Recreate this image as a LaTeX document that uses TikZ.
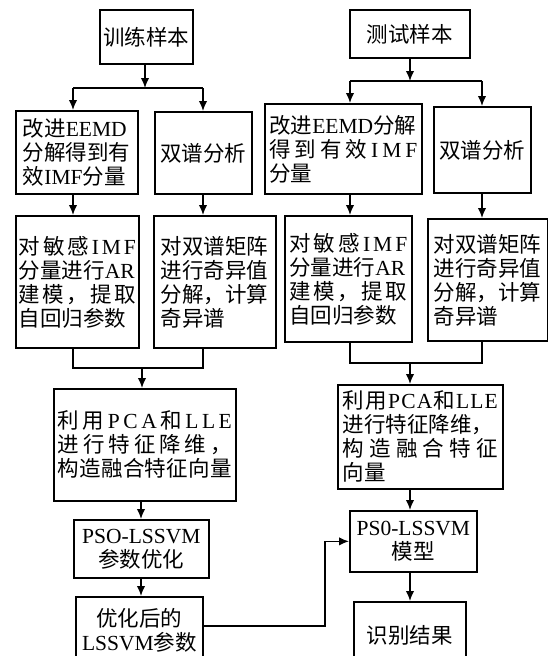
\documentclass[tikz,border=0pt]{standalone}
\usepackage{fontspec}
\setmainfont{Noto Sans CJK SC}
\newfontfamily\lat{Liberation Serif}
\usetikzlibrary{arrows.meta,calc}
\newcommand\spreadline[1]{\makebox[\hsize][s]{#1}}
\tikzset{
  box/.style={draw, line width=1.7pt, inner xsep=0pt, inner ysep=0pt, anchor=north west,
    font=\fontsize{21.5}{24}\selectfont, align=center},
  lbox/.style={box, align=left},
  conn/.style={line width=1.6pt},
  arr/.style={conn, -{Latex[length=10pt,width=8.5pt]}},
}
\begin{document}
\begin{tikzpicture}[x=1pt,y=-1pt]
\useasboundingbox (0,0) rectangle (548,656);
\clip (0,0) rectangle (548,656);
\fill[white] (0,0) rectangle (548,656);

% left column
\node[box, minimum width=93pt, minimum height=54pt] (trainS) at (99,9) {训练样本};
\node[lbox, minimum width=122pt, minimum height=83pt, text width=108pt] (Lbox1) at (15,110)
  {改进{\lat EEMD}\\分解得到有\\效{\lat IMF}分量};
\node[box, minimum width=97pt, minimum height=82pt] (Lbox2) at (154,111) {双谱分析};
\node[lbox, minimum width=123pt, minimum height=132pt, text width=117pt] (Lbox3) at (15,215)
  {\spreadline{对\hfil 敏\hfil 感\hfil{\lat I\hfil M\hfil F}}\\
   分量进行{\lat AR}\\
   \spreadline{建\hfil 模\hfil ，\hfil 提\hfil 取}\\
   自回归参数};
\node[lbox, minimum width=122pt, minimum height=132pt, text width=108pt] (Lbox4) at (153,215)
  {对双谱矩阵\\进行奇异值\\分解，计算\\奇异谱};
\node[lbox, minimum width=182pt, minimum height=112pt, text width=174pt] (LPCA) at (53,388)
  {\spreadline{利\hfil 用\hfil{\lat P\hfil C\hfil A}\hfil 和\hfil{\lat L\hfil L\hfil E}}\\
   \spreadline{进\hfil 行\hfil 特\hfil 征\hfil 降\hfil 维\hfil ，}\\
   \spreadline{构\hfil 造\hfil 融\hfil 合\hfil 特\hfil 征\hfil 向\hfil 量}};
\node[box, minimum width=135pt, minimum height=58pt] (Lpso) at (73,519)
  {{\lat PSO-LSSVM}\\参数优化};
\node[box, minimum width=127pt, minimum height=66pt] (Lopt) at (75,596)
  {优化后的\\{\lat LSSVM}参数};

% right column
\node[box, minimum width=120pt, minimum height=48pt] (testS) at (349,9) {测试样本};
\node[lbox, minimum width=157pt, minimum height=90pt, text width=148pt] (Rbox1) at (264,103)
  {改进{\lat EEMD}分解\\
   \spreadline{得\hfil 到\hfil 有\hfil 效\hfil{\lat I\hfil M\hfil F}}\\
   分量};
\node[box, minimum width=97pt, minimum height=86pt] (Rbox2) at (433,106) {双谱分析};
\node[lbox, minimum width=127pt, minimum height=126pt, text width=118pt] (Rbox3) at (284,215)
  {\spreadline{对\hfil 敏\hfil 感\hfil{\lat I\hfil M\hfil F}}\\
   分量进行{\lat AR}\\
   \spreadline{建\hfil 模\hfil ，\hfil 提\hfil 取}\\
   自回归参数};
\node[lbox, minimum width=120pt, minimum height=122pt, text width=108pt] (Rbox4) at (427,218)
  {对双谱矩阵\\进行奇异值\\分解，计算\\奇异谱};
\node[lbox, minimum width=165pt, minimum height=104pt, text width=155pt] (RPCA) at (337,384)
  {\spreadline{利\hfil 用\hfil{\lat P\hfil C\hfil A}\hfil 和\hfil{\lat L\hfil L\hfil E}}\\
   进行特征降维，\\
   \spreadline{构\hfil 造\hfil 融\hfil 合\hfil 特\hfil 征}\\
   向量};
\node[box, minimum width=127pt, minimum height=61pt] (Rpso) at (349,510)
  {{\lat PS0-LSSVM}\\模型};
\node[box, minimum width=112pt, minimum height=68pt] (Rres) at (353,601) {识别结果};

% junction coordinates
\coordinate (jTL) at (73,88);
\coordinate (jTR) at (203,88);
\coordinate (jTM) at (145,88);
\coordinate (jBL) at (73,368);
\coordinate (jBR) at (203,368);
\coordinate (jBM) at (142,368);
\coordinate (kTL) at (350,81);
\coordinate (kTR) at (482,81);
\coordinate (kTM) at (410,81);
\coordinate (kBL) at (350,363);
\coordinate (kBR) at (482,363);
\coordinate (kBM) at (410,363);
\coordinate (fb) at (325,626);
\coordinate (px) at (141,0);

% left connectors
\draw[arr] (trainS.south -| jTM) -- (jTM);
\draw[conn] (jTL) -- (jTR);
\draw[arr] (jTL) -- (jTL |- Lbox1.north);
\draw[arr] (jTR) -- (jTR |- Lbox2.north);
\draw[arr] (jTL |- Lbox1.south) -- (jTL |- Lbox3.north);
\draw[arr] (jTR |- Lbox2.south) -- (jTR |- Lbox4.north);
\draw[conn] (jBL |- Lbox3.south) -- (jBL) -- (jBR) -- (jBR |- Lbox4.south);
\draw[arr] (jBM) -- (jBM |- LPCA.north);
\draw[arr] (px |- LPCA.south) -- (px |- Lpso.north);
\draw[arr] (px |- Lpso.south) -- (px |- Lopt.north);

% right connectors
\draw[arr] (testS.south -| kTM) -- (kTM);
\draw[conn] (kTL) -- (kTR);
\draw[arr] (kTL) -- (kTL |- Rbox1.north);
\draw[arr] (kTR) -- (kTR |- Rbox2.north);
\draw[arr] (kTL |- Rbox1.south) -- (kTL |- Rbox3.north);
\draw[arr] (kTR |- Rbox2.south) -- (kTR |- Rbox4.north);
\draw[conn] (kBL |- Rbox3.south) -- (kBL) -- (kBR) -- (kBR |- Rbox4.south);
\draw[arr] (kBM) -- (kBM |- RPCA.north);
\draw[arr] (kBM |- RPCA.south) -- (kBM |- Rpso.north);
\draw[arr] (kBM |- Rpso.south) -- (kBM |- Rres.north);

% feedback
\draw[arr] (Lopt.east |- fb) -- (fb) |- (Rpso.west);
\end{tikzpicture}
\end{document}
